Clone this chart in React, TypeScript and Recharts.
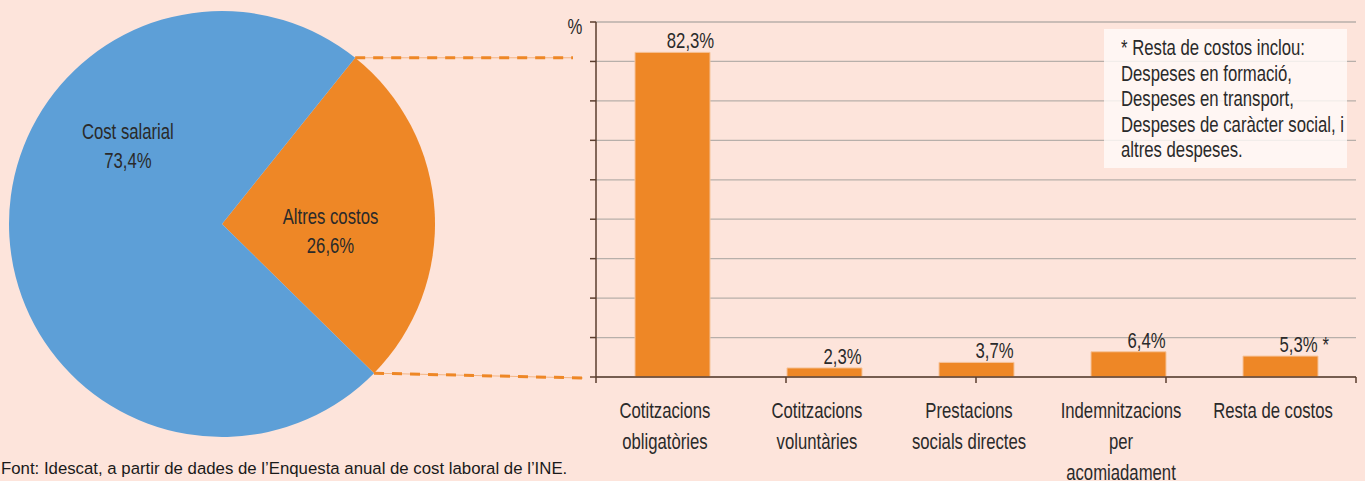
import { PieChart, Pie, Cell, BarChart, Bar, XAxis, YAxis, CartesianGrid, LabelList } from 'recharts';

// pie: share of labour cost
const pieNames = ['Altres costos', 'Cost salarial'];
const pieValues = [26.6, 73.4];
const pieColors = ['#EE8726', '#5D9FD7'];

// bars: breakdown of "Altres costos"
const barCategories = [
  'Cotitzacions\nobligatòries',
  'Cotitzacions\nvoluntàries',
  'Prestacions\nsocials directes',
  'Indemnitzacions\nper\nacomiadament',
  'Resta de costos',
];
const barValues = [82.3, 2.3, 3.7, 6.4, 5.3];
const barMarks = ['', '', '', '', '*'];
const yTicks = [0, 10, 20, 30, 40, 50, 60, 70, 80, 90];
const edgeTicks = [0, 1, 2, 3, 4, 5];

const noteLines = [
  '* Resta de costos inclou:',
  'Despeses en formació,',
  'Despeses en transport,',
  'Despeses de caràcter social, i',
  'altres despeses.',
];
const sourceText = "Font: Idescat, a partir de dades de l’Enquesta anual de cost laboral de l’INE.";

// no condensed face installed, so squeeze Liberation Sans
const FONT = "'Liberation Sans', Arial, sans-serif";
const SQUEEZE = 0.76;
const FS = 22;
const BG = '#FDE4DB';
const AXIS = '#5A3E2E';
const ORANGE = '#EE8726';
const INK = '#2A2A2A';

// layout
const PIE_CX = 222;
const PIE_CY = 224;
const PIE_R = 213;
const PIE_START = 51.3;
const BAR_LEFT = 596;
const BAR_TOP = 22;
const BAR_BOTTOM = 377;

// where the pie labels sit (fraction of radius, angle in degrees)
const PIE_LABEL_SPOTS = [
  { r: 0.51, a: -3 },
  { r: 0.577, a: 140 },
];

const fmt = (v: number) => v.toFixed(1).replace('.', ',') + '%';

const pieData = pieNames.map((name, i) => ({ name, value: pieValues[i] }));
const barData = barCategories.map((name, i) => ({ name, value: barValues[i] }));

const NarrowText = ({ x, y, anchor = 'middle', lines, gap = 28, first = 0 }: any) => (
  <text
    transform={`translate(${x},${y}) scale(${SQUEEZE},1)`}
    x={0}
    y={0}
    textAnchor={anchor}
    fill={INK}
    fontSize={FS}
    fontFamily={FONT}
  >
    {lines.map((l: string, i: number) => (
      <tspan key={i} x={0} dy={i === 0 ? first : gap}>{l}</tspan>
    ))}
  </text>
);

const renderPieLabel = (p: any) => {
  const spot = PIE_LABEL_SPOTS[p.index];
  const rad = (spot.a * Math.PI) / 180;
  const x = p.cx + p.outerRadius * spot.r * Math.cos(rad);
  const y = p.cy - p.outerRadius * spot.r * Math.sin(rad);
  return (
    <NarrowText x={x} y={y} lines={[pieNames[p.index], fmt(pieValues[p.index])]} first={-6} gap={29} />
  );
};

const CategoryTick = (props: any) => {
  const { x, y, payload } = props;
  const lines = String(payload.value).split('\n');
  return <NarrowText x={x - 7} y={y} lines={lines} first={32} gap={31} />;
};

const ValueLabel = (props: any) => {
  const { x, y, width, index, value } = props;
  const cx = x + width / 2 + 18;
  return (
    <g>
      <NarrowText x={cx} y={y - 4} lines={[fmt(value)]} />
      {barMarks[index] ? (
        <NarrowText x={cx + 24} y={y - 4} anchor="start" lines={[barMarks[index]]} />
      ) : null}
    </g>
  );
};

const Connectors = () => {
  const a1 = (PIE_START * Math.PI) / 180;
  const a2 = ((PIE_START - (pieValues[0] / 100) * 360) * Math.PI) / 180;
  const p1 = { x: PIE_CX + PIE_R * Math.cos(a1), y: PIE_CY - PIE_R * Math.sin(a1) };
  const p2 = { x: PIE_CX + PIE_R * Math.cos(a2), y: PIE_CY - PIE_R * Math.sin(a2) };
  const lines = [
    { x1: p1.x, y1: p1.y, x2: BAR_LEFT - 23, y2: p1.y },
    { x1: p2.x, y1: p2.y, x2: BAR_LEFT - 13, y2: BAR_BOTTOM + 1 },
  ];
  return (
    <svg width={1365} height={481} style={{ position: 'absolute', left: 0, top: 0, pointerEvents: 'none' }}>
      {lines.map((l, i) => (
        <g key={i}>
          <line {...l} stroke="#F4B584" strokeWidth={1} />
          <line {...l} stroke={ORANGE} strokeWidth={3} strokeDasharray="10 8" />
        </g>
      ))}
      <NarrowText x={575} y={34} lines={['%']} />
    </svg>
  );
};

export default function App() {
  return (
    <div style={{ position: 'absolute', left: 0, top: 0, width: 1365, height: 481, background: BG, overflow: 'hidden' }}>
      <div style={{ position: 'absolute', left: 0, top: 0 }}>
        <PieChart width={450} height={450} margin={{ top: 0, right: 0, bottom: 0, left: 0 }}>
          <Pie
            data={pieData}
            dataKey="value"
            nameKey="name"
            cx={PIE_CX}
            cy={PIE_CY}
            outerRadius={PIE_R}
            startAngle={PIE_START}
            endAngle={PIE_START - 360}
            stroke="none"
            label={renderPieLabel}
            labelLine={false}
            isAnimationActive={false}
          >
            {pieData.map((d, i) => (
              <Cell key={d.name} fill={pieColors[i]} />
            ))}
          </Pie>
        </PieChart>
      </div>

      <div style={{ position: 'absolute', left: 540, top: 0 }}>
        <BarChart
          width={825}
          height={481}
          data={barData}
          margin={{ top: BAR_TOP, right: 9, left: 0, bottom: 0 }}
        >
          <CartesianGrid vertical={false} stroke="#B7AFAA" strokeWidth={1.3} />
          {/* axis line with ticks between categories */}
          <XAxis
            xAxisId={0}
            type="number"
            domain={[0, 5]}
            ticks={edgeTicks}
            allowDataOverflow
            height={1}
            stroke={AXIS}
            strokeWidth={1.5}
            tickSize={6}
            tickFormatter={() => ''}
          />
          {/* category names */}
          <XAxis
            xAxisId={1}
            dataKey="name"
            axisLine={false}
            tickLine={false}
            height={103}
            interval={0}
            tick={<CategoryTick />}
          />
          <YAxis
            width={BAR_LEFT - 540}
            domain={[0, 90]}
            ticks={yTicks}
            stroke={AXIS}
            strokeWidth={1.5}
            tickSize={6}
            tickFormatter={() => ''}
          />
          <Bar
            xAxisId={1}
            dataKey="value"
            fill={ORANGE}
            stroke="#F6C39A"
            strokeWidth={1}
            barSize={75}
            isAnimationActive={false}
          >
            <LabelList dataKey="value" content={<ValueLabel />} />
          </Bar>
        </BarChart>
      </div>

      <Connectors />

      <div
        style={{
          position: 'absolute',
          left: 1104,
          top: 29,
          width: 243,
          height: 139,
          background: 'rgba(255, 250, 248, 0.82)',
        }}
      >
        <div
          style={{
            position: 'absolute',
            left: 17,
            top: 6,
            transform: `scaleX(${SQUEEZE})`,
            transformOrigin: 'left top',
            fontFamily: FONT,
            fontSize: FS,
            lineHeight: '25.5px',
            color: INK,
            whiteSpace: 'nowrap',
          }}
        >
          {noteLines.map((l) => (
            <div key={l}>{l}</div>
          ))}
        </div>
      </div>

      <div
        style={{
          position: 'absolute',
          left: 1,
          top: 460,
          fontFamily: FONT,
          fontSize: 16.8,
          lineHeight: '18px',
          color: '#1A1A1A',
          whiteSpace: 'nowrap',
        }}
      >
        {sourceText}
      </div>
    </div>
  );
}
